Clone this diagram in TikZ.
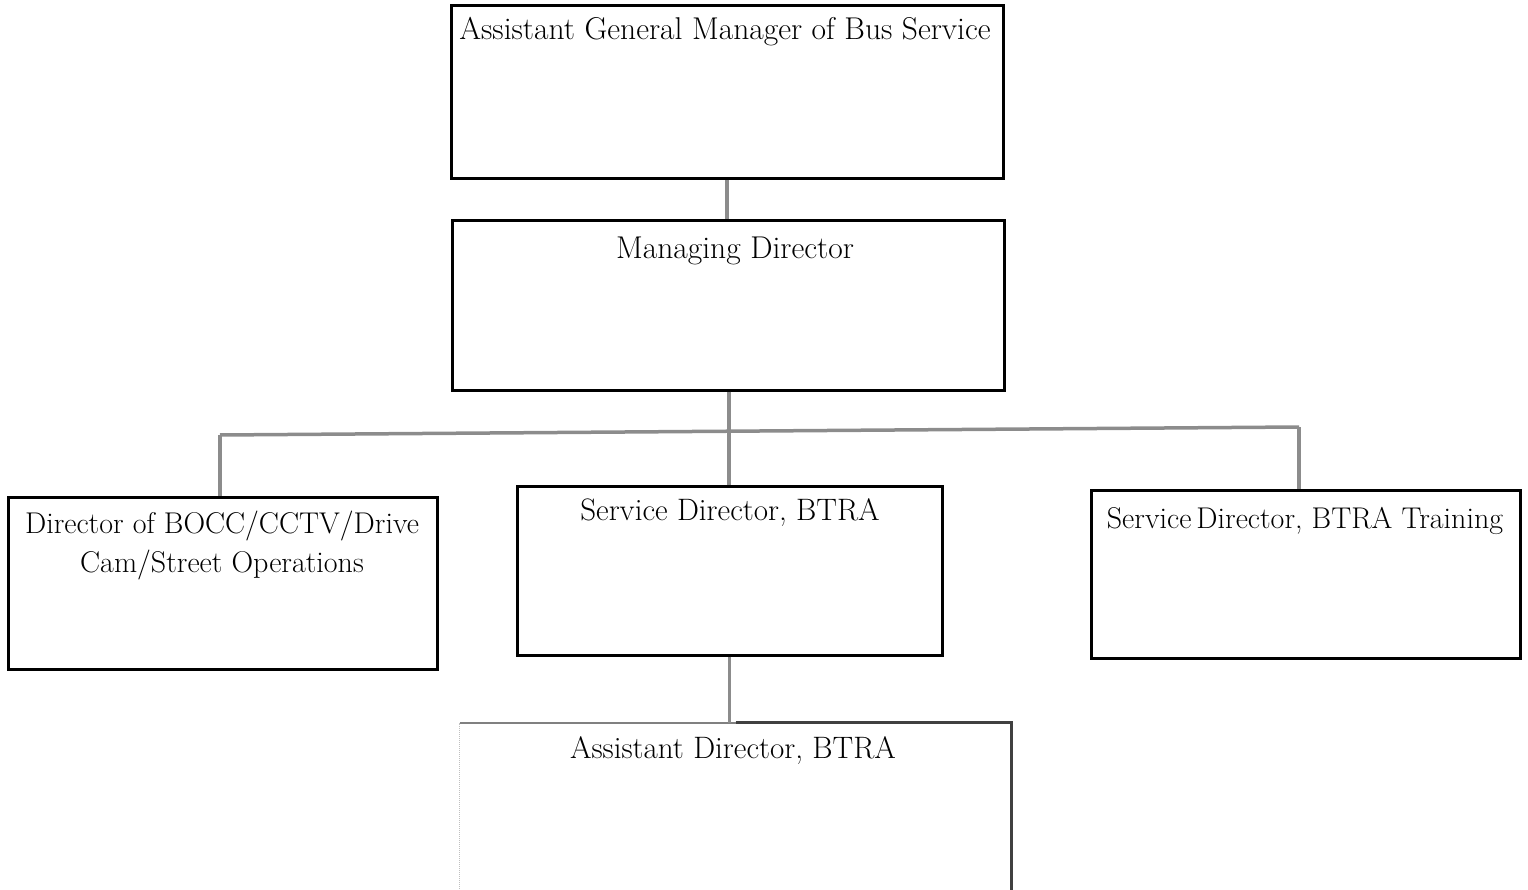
\documentclass[tikz,border=0pt]{standalone}
\begin{document}
\begin{tikzpicture}[x=1pt,y=-1pt,
  box/.style={draw=black,line width=3pt,minimum width=#1,inner sep=0pt},
  lbl/.style={anchor=base,font=\fontsize{31}{39}\selectfont,align=center,inner sep=0pt},
  conn/.style={draw=black!45,line width=3.5pt}]
\useasboundingbox (0,0) rectangle (1528,890);
\node[box=552pt,minimum height=173pt] (agm) at (727,92.5) {};
\node[box=552pt,minimum height=169pt] (md) at (728,305.5) {};
\node[box=429pt,minimum height=172pt] (dir) at (222.5,583) {};
\node[box=425pt,minimum height=169pt] (sd) at (729.5,570.5) {};
\node[box=429pt,minimum height=168pt] (sdt) at (1305.5,574) {};
\node[minimum width=551pt,minimum height=180pt,inner sep=0pt] (ad) at (735.5,813) {};
% bottom box partial edges
\draw[black!25,line width=1pt,densely dotted] (ad.south west) -- (ad.north west);
\draw[black!50,line width=2.5pt] (ad.north west) -- (ad.north);
\draw[black!75,line width=3pt] (ad.north) -- (ad.north east) -- (ad.south east);
% labels
\node[lbl,font=\fontsize{31.5}{39}\selectfont] (tagm) at (725,40) {Assistant General Manager of Bus Service};
\node[lbl,font=\fontsize{31.5}{39}\selectfont] (tmd) at (735,259) {Managing Director};
\node[lbl,font=\fontsize{30}{39}\selectfont] (tdir) at (222,572) {Director of BOCC/CCTV/Drive\\Cam/Street Operations};
\node[lbl] (tsd) at (730,520) {Service Director, BTRA};
\node[lbl,font=\fontsize{30}{39}\selectfont] (tsdt) at (1305,528) {Service\,Director, BTRA Training};
\node[lbl] (tad) at (733,758) {Assistant Director, BTRA};
% connectors
\coordinate (jl) at (220,435);
\coordinate (jr) at (1299,427);
\coordinate (jm) at (729,431);
\draw[conn] (agm.south) -- (agm.south |- md.north);
\draw[conn] (md.south -| jm) -- (jm);
\draw[conn] (jl) -- (jr);
\draw[conn] (jl) -- (jl |- dir.north);
\draw[conn] (jm) -- (jm |- sd.north);
\draw[conn] (jr) -- (jr |- sdt.north);
\draw[conn] (sd.south) -- (sd.south |- ad.north);
\end{tikzpicture}
\end{document}
